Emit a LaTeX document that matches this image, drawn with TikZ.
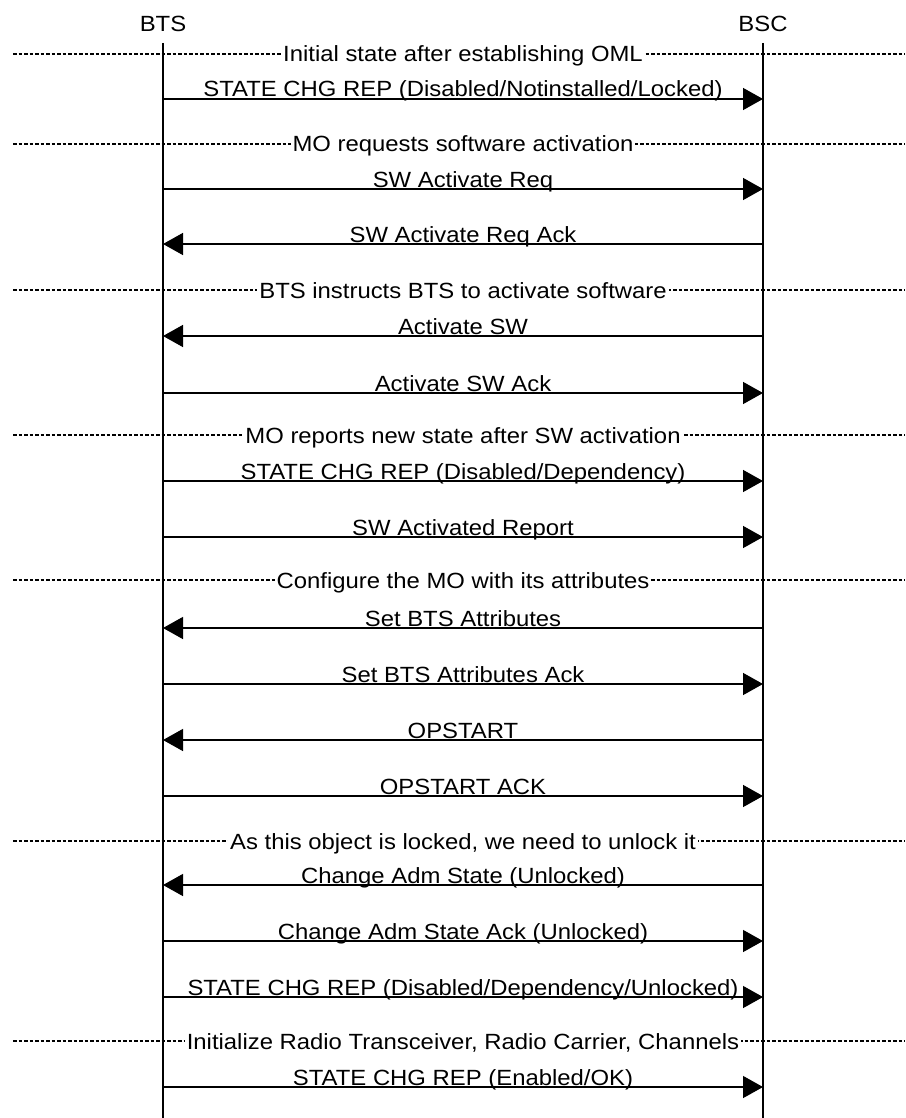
\documentclass[tikz,border=0pt]{standalone}
\usepackage{fontspec}
\setmainfont[FakeStretch=1.085]{Liberation Sans}
\usepackage{tikz}
\usetikzlibrary{arrows.meta}
\tikzset{>=latex}

\begin{document}
\begin{tikzpicture}[x=1pt,y=-1pt,
		font=\fontsize{22}{26}\selectfont,
		lifeline/.style={line width=1.5pt},
		msg/.style={line width=1.4pt,-{Triangle[length=20pt,width=22pt]}},
		sepline/.style={line width=1.3pt,dash pattern=on 3.5pt off 2pt},
		seplabel/.style={fill=white,anchor=base,inner sep=2pt},
		msglabel/.style={anchor=base,inner sep=0pt}]
	
	\fill[white] (0,0) rectangle (905,1118); % background
	\useasboundingbox (0,0) rectangle (905,1118);
	
	\node[anchor=base] (bts) at (163,32) {BTS};
	\node[anchor=base] (bsc) at (763,32) {BSC};
	
	% phase separators
	\foreach \y/\txt [count=\i] in {
			54/{Initial state after establishing OML},
			144/{MO requests software activation},
			290/{BTS instructs BTS to activate software},
			435/{MO reports new state after SW activation},
			580/{Configure the MO with its attributes},
			841/{As this object is locked, we need to unlock it},
			1041/{Initialize Radio Transceiver, Radio Carrier, Channels}}{
		\coordinate (sl\i) at (13,\y);
		\coordinate (sr\i) at (905,\y);
		\draw[sepline] (sl\i) -- (sr\i);
		\node[seplabel] (sep\i) at (463,\y+8) {\txt};
	}
	
	% lifelines
	\coordinate (btstop) at (163,43);
	\coordinate (bsctop) at (763,43);
	\coordinate (btsend) at (163,1118);
	\coordinate (bscend) at (763,1118);
	\draw[lifeline] (btstop) -- (btsend);
	\draw[lifeline] (bsctop) -- (bscend);
	
	% messages
	\foreach \y/\from/\to/\txt [count=\i] in {
			99/bts/bsc/{STATE CHG REP (Disabled/Notinstalled/Locked)},
			189/bts/bsc/{SW Activate Req},
			244/bsc/bts/{SW Activate Req Ack},
			336/bsc/bts/{Activate SW},
			393/bts/bsc/{Activate SW Ack},
			481/bts/bsc/{STATE CHG REP (Disabled/Dependency)},
			537/bts/bsc/{SW Activated Report},
			628/bsc/bts/{Set BTS Attributes},
			684/bts/bsc/{Set BTS Attributes Ack},
			740/bsc/bts/{OPSTART},
			796/bts/bsc/{OPSTART ACK},
			885/bsc/bts/{Change Adm State (Unlocked)},
			941/bts/bsc/{Change Adm State Ack (Unlocked)},
			997/bts/bsc/{STATE CHG REP (Disabled/Dependency/Unlocked)},
			1087/bts/bsc/{STATE CHG REP (Enabled/OK)}}{
		\draw[msg] (\from |- 0,\y) -- (\to |- 0,\y);
		\node[msglabel] (msg\i) at (463,\y-2) {\txt};
	}
	
\end{tikzpicture}
\end{document}
